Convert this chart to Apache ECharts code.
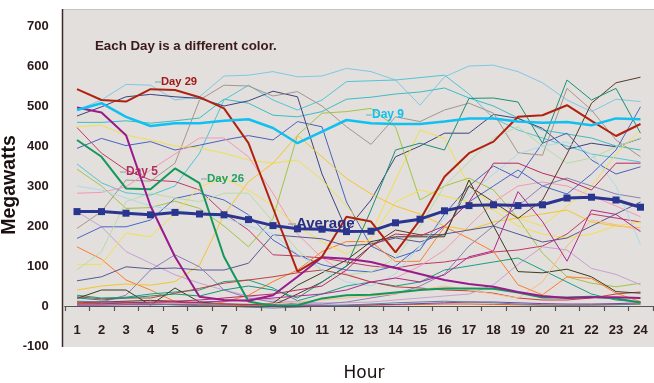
<!DOCTYPE html>
<html>
<head>
<meta charset="utf-8">
<script src="https://cdn.jsdelivr.net/npm/echarts@6/dist/echarts.min.js"></script>
<style>html,body{margin:0;padding:0;background:#fff}#c{width:654px;height:383px}</style>
</head>
<body>
<div id="c"></div>
<script>
// ---- data ----
const hours = ['1','2','3','4','5','6','7','8','9','10','11','12','13','14','15','16','17','18','19','20','21','22','23','24'];
const yTicks = [-100, 0, 100, 200, 300, 400, 500, 600, 700];

const day29 = [542,515,511,542,540,522,494,407,245,86,123,223,211,134,215,323,382,411,473,477,502,463,425,455];
const day9  = [490,507,473,450,457,457,463,467,445,407,436,465,457,455,455,461,469,469,461,458,460,452,469,467];
const day26 = [415,373,294,292,344,307,123,11,0,2,19,27,28,34,40,44,44,43,34,21,21,23,19,9];
const day5  = [496,484,427,250,123,23,15,13,27,73,122,118,110,95,80,65,55,48,35,25,20,22,22,20];
const average = [236,236,232,228,234,230,228,216,201,193,192,186,187,208,217,238,251,253,251,253,270,272,265,247];

const otherA = [490,515,554,552,515,523,575,577,586,573,575,594,586,565,502,573,600,602,586,558,515,486,517,511];
const otherB = [459,459,463,457,463,470,517,507,477,473,486,517,522,530,535,545,520,500,470,440,430,420,400,390];
const otherC = [355,308,283,277,300,382,515,552,515,490,515,561,563,565,571,577,530,470,440,420,400,380,370,360];
const otherD = [475,498,523,529,523,519,500,513,537,523,330,190,265,373,400,432,432,479,469,444,392,407,398,419];
const otherE = [394,419,401,411,390,402,415,426,415,461,448,260,150,120,140,230,300,350,320,407,432,365,330,348];
const otherF = [194,236,315,312,357,515,552,550,525,536,500,448,404,473,461,490,507,482,383,377,544,490,415,373];
const otherG = [446,382,340,315,311,290,232,190,128,125,120,110,100,95,105,110,120,135,140,150,180,230,220,210];
const otherH = [448,452,427,415,400,395,382,365,357,365,315,250,180,315,440,419,300,250,220,200,250,300,380,440];
const otherI = [342,300,244,246,262,244,200,148,219,427,482,486,494,448,265,300,320,290,219,132,73,57,48,57];
const otherJ = [282,284,298,340,380,420,420,373,282,180,120,80,60,70,100,140,200,260,300,310,300,275,250,223];
const otherK = [236,198,136,107,78,57,40,25,15,10,8,8,10,15,20,25,30,53,104,148,140,94,79,53];
const otherL = [169,198,198,215,269,282,265,228,165,128,103,90,85,100,150,200,260,300,340,300,280,330,390,498];
const otherM = [148,117,65,40,11,2,10,27,61,90,136,161,161,111,112,198,169,136,53,28,73,69,32,11];
const otherN = [40,50,55,52,61,102,228,311,357,427,373,319,280,250,230,200,190,210,220,230,240,210,200,196];
const otherO = [104,104,182,173,232,298,320,290,250,200,160,130,170,260,290,275,260,240,200,180,170,180,200,210];
const otherP = [90,136,261,282,270,261,282,282,211,140,90,78,85,120,200,300,360,420,448,400,357,370,398,420];
const otherQ = [63,73,98,93,95,90,90,107,178,173,168,150,155,170,160,180,190,200,180,160,170,200,230,260];
const otherR = [5,10,27,90,128,98,40,20,10,5,5,10,20,30,50,80,150,200,250,300,320,300,280,270];
const otherS = [27,20,22,30,35,40,61,65,45,13,30,50,60,50,60,90,100,110,120,90,60,30,15,10];
const otherT = [23,18,20,20,32,44,57,65,73,83,90,78,60,48,45,40,38,32,20,15,15,20,30,35];
const otherU = [19,40,40,2,45,10,5,3,7,52,83,115,161,173,173,173,315,200,86,83,92,73,36,32];
const otherV = [8,10,12,14,12,8,5,3,2,30,60,100,150,190,178,178,300,260,219,265,380,507,558,572];
const otherW = [20,15,20,25,30,25,40,50,40,20,60,100,240,390,407,390,519,520,510,407,565,515,544,432];
const otherX = [300,290,270,250,240,230,220,200,180,130,90,60,50,80,150,220,280,330,380,400,410,380,300,153];
const otherY = [5,5,5,5,5,5,5,5,5,10,15,20,25,30,40,50,40,30,20,60,150,215,203,190];
const otherZ = [10,10,10,8,8,10,12,15,20,25,30,40,60,70,60,78,123,138,286,211,112,240,229,186];
const otherAA = [8,6,5,5,3,2,2,1,0,0,0,1,2,3,4,5,5,4,3,2,2,3,4,5];
const otherAB = [2,2,3,3,4,5,5,4,3,2,2,2,3,4,6,8,10,10,8,6,5,5,6,8];
const otherAC = [12,10,8,5,3,1,0,-3,-5,-3,0,2,5,8,10,12,10,8,5,3,2,2,3,5];
const otherAD = [5,5,8,10,12,15,20,25,30,40,50,90,150,180,175,200,260,357,357,332,315,290,357,357];

const thin = [
  [otherA,'#80c8e6'],[otherB,'#3cbcc6'],[otherC,'#50c6d6'],[otherD,'#3c4480'],[otherE,'#4a62bc'],
  [otherF,'#a4968e'],[otherG,'#c03868'],[otherH,'#f0e050'],[otherI,'#a4c444'],[otherJ,'#f498b8'],
  [otherK,'#c8a0d4'],[otherL,'#4868c8'],[otherM,'#ff7c2c'],[otherN,'#f8c42c'],[otherO,'#f4e04c'],
  [otherP,'#b8dca8'],[otherQ,'#585894'],[otherR,'#8a80b8'],[otherS,'#1aa080'],[otherT,'#c04040'],
  [otherU,'#3c3c20'],[otherV,'#5a3a28'],[otherW,'#1a9078'],[otherX,'#a8dcec'],[otherY,'#f8bc88'],
  [otherZ,'#b02890'],[otherAA,'#e06020'],[otherAB,'#8040a0'],[otherAC,'#6080a0'],[otherAD,'#b82860']
];

const series = thin.map(([d,c]) => ({
  type:'line', data:d, symbol:'none', lineStyle:{width:1, color:c}, z:2
}));
series.push({type:'line', data:day26, symbol:'none', lineStyle:{width:2, color:'#12985a'}, z:3});
series.push({type:'line', data:day5, symbol:'none', lineStyle:{width:2, color:'#981a8c'}, z:3});
series.push({type:'line', data:day29, symbol:'none', lineStyle:{width:2, color:'#b02210'}, z:3});
series.push({type:'line', data:day9, symbol:'none', lineStyle:{width:2.5, color:'#10c0f0'}, z:4});
series.push({type:'line', data:average, symbol:'rect', symbolSize:7, itemStyle:{color:'#2a3590'}, lineStyle:{width:3, color:'#2a3590'}, z:5});

const txt = (x,y,t,color,size) => ({type:'text', x:x, y:y, z:20,
  style:{text:t, fill:color, font:'bold '+size+'px "Liberation Sans", Arial, sans-serif', textVerticalAlign:'middle'}});
const lead = (x1,x2,y,color) => ({type:'line', z:20, shape:{x1:x1,y1:y,x2:x2,y2:y}, style:{stroke:color, lineWidth:1}});

const chart = echarts.init(document.getElementById('c'), null, {renderer:'canvas'});
chart.setOption({
  animation:false,
  backgroundColor:'#ffffff',
  grid:{left:64.75, right:1.25, top:26, bottom:37, containLabel:false},
  xAxis:{
    type:'category', data:hours, boundaryGap:true, position:'bottom', offset:-40, z:10,
    axisLine:{show:true, onZero:false, lineStyle:{color:'#555555', width:1.2}},
    axisTick:{show:true, length:5, lineStyle:{color:'#555555', width:1.2}},
    axisLabel:{margin:18, fontSize:13, fontWeight:'bold', color:'#2a1a1a', fontFamily:'"Liberation Sans", Arial, sans-serif'},
    splitLine:{show:false}
  },
  yAxis:{
    type:'value', min:yTicks[0], max:yTicks[yTicks.length-1], interval:100, offset:2,
    axisLine:{show:false},
    axisTick:{show:false},
    axisLabel:{margin:14, fontSize:13, fontWeight:'bold', color:'#2a1a1a', fontFamily:'"Liberation Sans", Arial, sans-serif'},
    splitLine:{show:false}
  },
  graphic:[
    {type:'rect', z:-10, shape:{x:62, y:9, width:592, height:338}, style:{fill:'#e3dfdc'}},
    {type:'line', z:-9, shape:{x1:62,y1:9.5,x2:654,y2:9.5}, style:{stroke:'#c4c0bc', lineWidth:1}},
    {type:'line', z:10, shape:{x1:62.5,y1:9,x2:62.5,y2:347}, style:{stroke:'#3a2a2a', lineWidth:1.5}},
    txt(95,46,'Each Day is a different color.','#3a1a1a',13.3),
    lead(155,161,82,'#70b0a8'), txt(161,82,'Day 29','#a01818',11.2),
    lead(366,372,115,'#70b0c8'), txt(372,115,'Day 9','#10c0f0',12),
    lead(120,126,172,'#80a8a0'), txt(126,172,'Day 5','#b03060',12),
    lead(201,207,179,'#80a8a0'), txt(207,179,'Day 26','#20a060',11.5),
    lead(288,296,224,'#8090a0'), txt(296,224,'Average','#2a3080',15),
    {type:'text', z:20, x:10, y:185, rotation:Math.PI/2,
      style:{text:'Megawatts', fill:'#1a1010', font:'bold 19.5px "Liberation Sans", Arial, sans-serif', textAlign:'center', textVerticalAlign:'middle'}},
    {type:'text', z:20, x:364, y:374,
      style:{text:'Hour', fill:'#1a1010', font:'17px "DejaVu Sans", Verdana, sans-serif', textAlign:'center', textVerticalAlign:'middle'}}
  ],
  series:series
});
</script>
</body>
</html>
